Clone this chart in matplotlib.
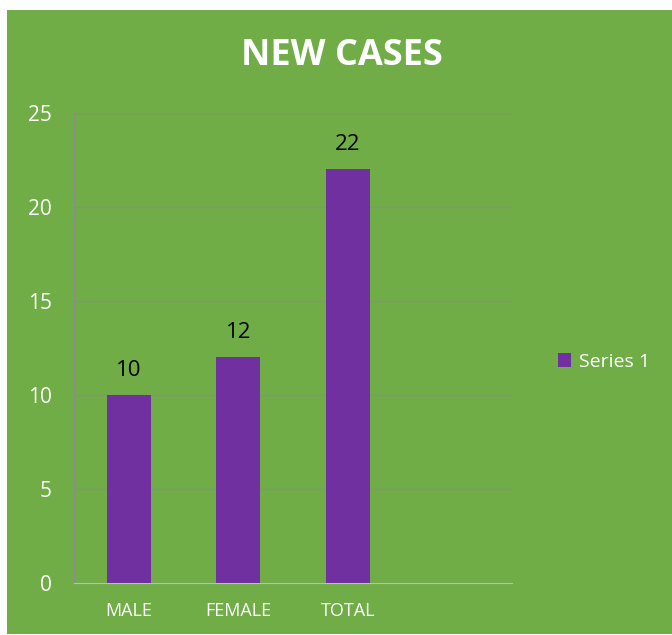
import matplotlib.pyplot as plt
from matplotlib.patches import Rectangle

categories = ['MALE', 'FEMALE', 'TOTAL']
values = [10, 12, 22]
series_name = 'Series 1'
y_ticks = [0, 5, 10, 15, 20, 25]

plt.rcParams['font.family'] = ['Open Sans', 'DejaVu Sans']

green = '#70AD47'
purple = '#7030A0'

fig = plt.figure(figsize=(6.72, 6.35), dpi=100)
fig.patch.set_facecolor('white')
# green chart area with a thin white border
fig.patches.append(Rectangle((7 / 672, 1 - 634 / 635), 1 - 7 / 672, 624 / 635,
                             transform=fig.transFigure, facecolor=green,
                             edgecolor='none', zorder=-10))

ax = fig.add_axes([74 / 672, 1 - 583 / 635, 438 / 672, 470 / 635])
ax.set_facecolor('none')

x = list(range(len(categories)))
bars = ax.bar(x, values, width=0.4, color=purple, label=series_name, zorder=3)
for b, v in zip(bars, values):
    ax.text(b.get_x() + b.get_width() / 2, v + 0.75, str(v), ha='center',
            va='bottom', fontsize=16, color='black')

ax.set_xlim(-0.5, 3.5)
ax.set_ylim(0, 25)
ax.set_yticks(y_ticks)
ax.set_xticks(x)
ax.set_xticklabels(categories)
ax.yaxis.grid(True, color='#8C8C8C', linewidth=1, zorder=0)
ax.tick_params(axis='both', length=0, colors='white', labelsize=15)
ax.tick_params(axis='y', pad=16)
ax.tick_params(axis='x', pad=14)
for lbl in ax.get_xticklabels():
    lbl.set_fontsize(13)

for s in ['top', 'right']:
    ax.spines[s].set_visible(False)
ax.spines['left'].set_color('#8C8C8C')
ax.spines['bottom'].set_color('#A9D18E')

fig.text(0.509, 1 - 56 / 635, 'NEW CASES', ha='center', va='center',
         fontsize=26, fontweight='bold', color='white')

leg = ax.legend(loc='center left', bbox_to_anchor=(466 / 438, 0.47),
                frameon=False, fontsize=14, handlelength=0.7, handleheight=0.7,
                handletextpad=0.4)
for t in leg.get_texts():
    t.set_color('white')

plt.savefig('out.png', dpi=100)
